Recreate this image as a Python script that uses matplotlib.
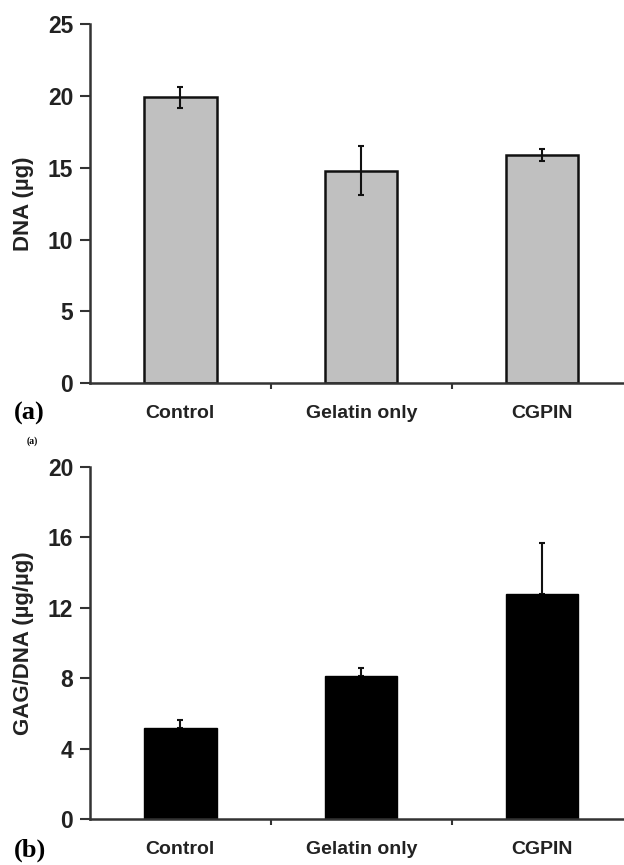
import matplotlib.pyplot as plt
import numpy as np

# Data
categories = ['Control', 'Gelatin only', 'CGPIN']
dna_mean = [19.9, 14.8, 15.9]
dna_err = [0.7, 1.7, 0.4]
gag_mean = [5.15, 8.1, 12.8]
gag_err = [0.5, 0.5, 2.85]
dna_ticks = [0, 5, 10, 15, 20, 25]
gag_ticks = [0, 4, 8, 12, 16, 20]

plt.rcParams['font.family'] = ['Liberation Sans', 'DejaVu Sans']

fig = plt.figure(figsize=(6.24, 8.65), dpi=100)
ax1 = fig.add_axes([0.144, 0.557, 0.87, 0.415])
ax2 = fig.add_axes([0.144, 0.053, 0.87, 0.4075])

x = np.arange(len(categories)) + 0.5


def style_axis(ax, ticks, ylabel):
    ax.set_xlim(0, 3)
    ax.set_ylim(ticks[0], ticks[-1])
    ax.set_yticks(ticks)
    ax.set_yticklabels([str(t) for t in ticks], fontsize=16.5, fontweight='bold', color='#222222')
    ax.set_xticks([1, 2])
    ax.set_xticklabels([])
    ax.tick_params(axis='y', direction='out', length=7, width=1.5, color='#333333', pad=5)
    ax.tick_params(axis='x', direction='out', length=4, width=1.5, color='#333333')
    for s in ['top', 'right']:
        ax.spines[s].set_visible(False)
    for s in ['left', 'bottom']:
        ax.spines[s].set_linewidth(1.8)
        ax.spines[s].set_color('#333333')
    ax.set_ylabel(ylabel, fontsize=16, fontweight='bold', color='#222222', labelpad=10)
    for xi, name in zip(x, categories):
        ax.text(xi, -0.085, name, transform=ax.get_xaxis_transform(),
                ha='center', va='center', fontsize=14, fontweight='bold', color='#222222')


# (a) DNA content
ax1.bar(x, dna_mean, width=0.4, color='#c0c0c0', edgecolor='#111111', linewidth=1.8, zorder=2)
ax1.errorbar(x, dna_mean, yerr=dna_err, fmt='none', ecolor='#111111', elinewidth=1.5,
             capsize=2.5, capthick=1.5, zorder=3)
style_axis(ax1, dna_ticks, 'DNA (\u00b5g)')

# (b) GAG/DNA
ax2.bar(x, gag_mean, width=0.4, color='#000000', edgecolor='#000000', linewidth=1, zorder=2)
ax2.errorbar(x, gag_mean, yerr=[np.zeros(len(gag_err)), gag_err], fmt='none', ecolor='#111111',
             elinewidth=1.5, capsize=2.5, capthick=1.5, zorder=1)
style_axis(ax2, gag_ticks, 'GAG/DNA (\u00b5g/\u00b5g)')

# Panel labels
fig.text(0.022, 0.522, '(a)', fontsize=19, fontweight='bold', family='Liberation Serif', va='center')
fig.text(0.043, 0.490, '(a)', fontsize=7, fontweight='bold', family='Liberation Serif', va='center')
fig.text(0.022, 0.017, '(b)', fontsize=19, fontweight='bold', family='Liberation Serif', va='center')

fig.savefig('out.png', dpi=100)
